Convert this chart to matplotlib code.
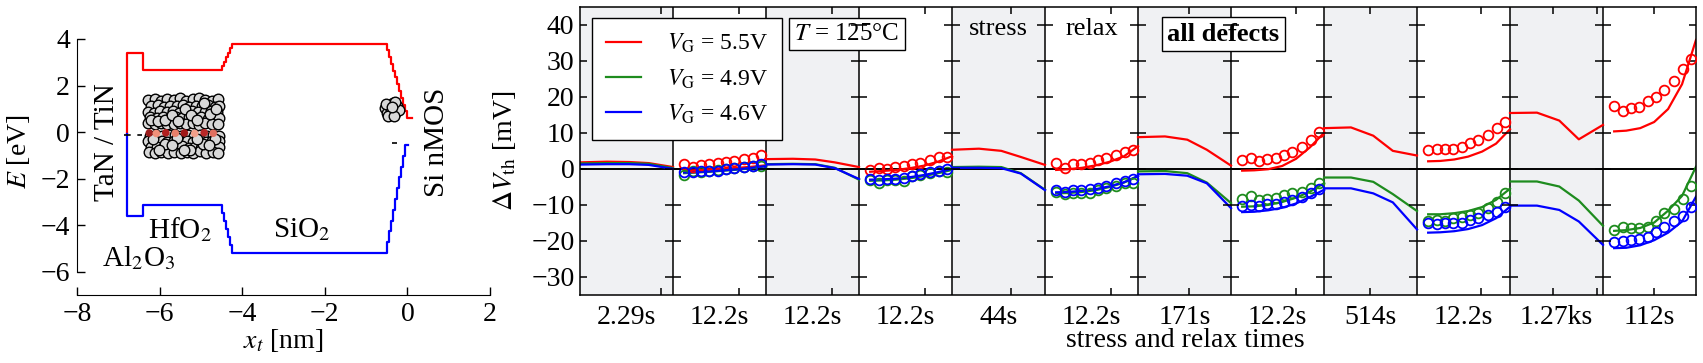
import numpy as np
import matplotlib
matplotlib.use('Agg')
import matplotlib.pyplot as plt

plt.rcParams['font.family'] = ['Liberation Serif', 'DejaVu Serif']
plt.rcParams['mathtext.fontset'] = 'stix'
plt.rcParams['font.size'] = 18

# ---------------- left panel: band diagram ----------------
cb_x = [-6.8, -6.8, -6.4, -6.4, -4.55, -4.5, -4.45, -4.4, -4.35, -4.3, -4.25,
        -0.55, -0.5, -0.45, -0.4, -0.35, -0.3, -0.25, -0.2, -0.15, -0.1, -0.05, 0.0, 0.1]
cb_E = [-0.1, 3.4, 3.4, 2.65, 2.65, 2.84, 3.03, 3.22, 3.41, 3.6, 3.8,
        3.8, 3.51, 3.22, 2.93, 2.64, 2.35, 2.05, 1.76, 1.47, 1.18, 0.89, 0.6, 0.6]
vb_x = [-6.8, -6.8, -6.4, -6.4, -4.55, -4.5, -4.45, -4.4, -4.35, -4.3, -4.25,
        -0.55, -0.5, -0.45, -0.4, -0.35, -0.3, -0.25, -0.2, -0.15, -0.1, -0.05, 0.02]
vb_E = [-0.1, -3.6, -3.6, -3.15, -3.15, -3.49, -3.83, -4.17, -4.51, -4.85, -5.2,
        -5.2, -4.74, -4.27, -3.81, -3.34, -2.88, -2.41, -1.95, -1.48, -1.02, -0.55, -0.55]

# defect positions (x_t, E) in HfO2
hfo2_x = [-6.27, -6.12, -5.96, -5.82, -5.66, -5.51, -5.36, -5.19, -5.05, -4.89, -4.74, -4.59,
          -6.22, -6.05, -5.90, -5.74, -5.59, -5.44, -5.28, -5.13, -4.98, -4.82, -4.67, -4.56,
          -6.28, -6.13, -5.98, -5.83, -5.67, -5.52, -5.37, -5.21, -5.06, -4.91, -4.75, -4.60,
          -6.23, -6.06, -5.91, -5.76, -5.60, -5.45, -5.29, -5.14, -4.99, -4.83, -4.68, -4.55,
          -6.27, -6.12, -5.97, -5.81, -5.66, -5.50, -5.35, -5.20, -5.04, -4.89, -4.73, -4.58,
          -6.20, -6.04, -5.88, -5.71, -5.55, -5.39, -5.24, -5.09, -4.93, -4.78, -4.63,
          -6.24, -6.09, -5.93, -5.78, -5.62, -5.47, -5.31, -5.16, -5.01, -4.85, -4.70, -4.56,
          -6.28, -6.11, -5.95, -5.81, -5.65, -5.49, -5.34, -5.19, -5.03, -4.88, -4.72, -4.57,
          -6.22, -6.07, -5.92, -5.77, -5.61, -5.46, -5.30, -5.15, -4.99, -4.84, -4.69, -4.55,
          -6.26, -6.10, -5.96, -5.80, -5.64, -5.49, -5.33, -5.18, -5.02, -4.87, -4.71, -4.58,
          -6.17, -5.86, -5.58, -5.27, -4.95, -4.66, -6.02, -5.69, -5.41, -5.10, -4.80]
hfo2_E = [1.36, 1.40, 1.33, 1.42, 1.37, 1.45, 1.35, 1.41, 1.47, 1.38, 1.34, 1.40,
          1.10, 1.15, 1.08, 1.14, 1.11, 1.17, 1.09, 1.13, 1.12, 1.16, 1.08, 1.13,
          0.88, 0.84, 0.90, 0.86, 0.89, 0.83, 0.88, 0.91, 0.85, 0.87, 0.90, 0.86,
          0.63, 0.60, 0.65, 0.59, 0.64, 0.61, 0.66, 0.60, 0.63, 0.58, 0.64, 0.62,
          0.37, 0.34, 0.38, 0.33, 0.36, 0.39, 0.35, 0.37, 0.32, 0.38, 0.35, 0.36,
          0.50, 0.47, 0.52, 0.75, 0.49, 1.00, 0.73, 0.51, 1.25, 0.76, 0.98,
          -0.16, -0.12, -0.18, -0.14, -0.11, -0.17, -0.13, -0.15, -0.12, -0.18, -0.14, -0.16,
          -0.40, -0.43, -0.37, -0.42, -0.39, -0.44, -0.38, -0.41, -0.36, -0.42, -0.40, -0.38,
          -0.65, -0.62, -0.68, -0.63, -0.66, -0.61, -0.67, -0.64, -0.69, -0.62, -0.66, -0.64,
          -0.86, -0.90, -0.84, -0.89, -0.87, -0.92, -0.85, -0.88, -0.83, -0.90, -0.86, -0.88,
          -0.28, -0.53, -0.27, -0.77, -0.52, -0.29, -0.76, -0.55, -0.78, -0.30, -0.54]
# a few charged defects near the Fermi level
hot_x = [-6.25, -6.08, -5.85, -5.62, -5.40, -5.15, -4.92, -4.70]
hot_E = [-0.04, -0.06, -0.03, -0.05, -0.04, -0.06, -0.03, -0.05]
hot_c = ['#9b1c1c', '#f0907a', '#b02020', '#e8806a', '#a01818', '#f2a08a', '#b82828', '#e07060']
# defects at the SiO2/Si interface
sio2_x = [-0.55, -0.45, -0.34, -0.24, -0.50, -0.40, -0.30, -0.21, -0.46, -0.33, -0.52, -0.29, -0.38]
sio2_E = [1.02, 1.18, 1.24, 1.10, 0.84, 0.95, 0.80, 0.94, 0.70, 0.68, 1.20, 1.30, 1.06]

# ---------------- right panel: Delta Vth ----------------
time_labels = ['2.29s', '12.2s', '12.2s', '12.2s', '44s', '12.2s',
               '171s', '12.2s', '514s', '12.2s', '1.27ks', '112s']
tick_frac = [0.875, 0.71, 0.71, 0.71, 0.63, 0.71, 0.55, 0.70, 0.49, 0.69, 0.46, 0.55]
stress_f = [0, 0.29, 0.53, 0.74, 1.0]
relax_line_f = [0.12, 0.25, 0.4, 0.55, 0.7, 0.85, 1.0]
relax_meas_f = [0.12, 0.21, 0.30, 0.39, 0.48, 0.57, 0.66, 0.76, 0.86, 0.95]

model_55 = [[1.8, 2.0, 1.9, 1.6, 0.5],
            [-0.5, -0.4, -0.2, 0.0, 0.3, 0.6, 1.0],
            [2.7, 2.8, 2.6, 1.8, 0.5],
            [-0.8, -0.6, -0.3, 0.2, 0.9, 2.0, 3.5],
            [5.3, 5.6, 5.0, 3.3, 1.1],
            [-0.3, -0.1, 0.3, 1.0, 2.0, 3.5, 6.3],
            [8.8, 9.0, 8.1, 5.3, 0.9],
            [-0.5, -0.4, -0.1, 0.8, 2.8, 6.0, 10.0],
            [11.3, 11.5, 9.2, 5.0, 3.7],
            [2.1, 2.2, 2.6, 3.4, 4.8, 7.0, 11.0],
            [15.5, 15.6, 13.4, 8.2, 12.2],
            [10.4, 10.6, 11.3, 13.0, 16.6, 23.5, 35.8]]
model_49 = [[1.5, 1.6, 1.6, 1.4, 0.2],
            [-1.2, -1.0, -0.8, -0.5, -0.2, 0.2, 0.7],
            [1.3, 1.4, 1.3, 0.3, -3.0],
            [-3.3, -3.2, -3.0, -2.6, -2.0, -1.2, -0.3],
            [0.5, 0.6, 0.5, -1.2, -5.8],
            [-6.8, -6.7, -6.4, -5.9, -5.0, -3.8, -2.0],
            [-0.7, -0.6, -1.2, -3.8, -9.5],
            [-10.5, -10.4, -10.0, -9.2, -8.0, -6.3, -4.0],
            [-2.4, -2.4, -3.6, -7.0, -11.7],
            [-12.6, -12.6, -12.3, -11.7, -10.6, -8.6, -5.5],
            [-3.5, -3.5, -4.9, -8.8, -15.8],
            [-17.2, -17.0, -16.4, -14.9, -11.6, -7.5, 0.6]]
model_46 = [[1.2, 1.3, 1.3, 1.1, 0.0],
            [-1.0, -0.9, -0.7, -0.4, -0.1, 0.3, 0.8],
            [1.2, 1.3, 1.2, 0.2, -2.8],
            [-3.0, -2.9, -2.7, -2.3, -1.7, -0.9, 0.0],
            [0.3, 0.3, 0.2, -1.3, -5.9],
            [-6.5, -6.4, -6.1, -5.6, -4.8, -3.7, -2.0],
            [-1.5, -1.4, -1.9, -4.0, -10.9],
            [-12.0, -11.9, -11.5, -10.8, -9.6, -7.8, -5.8],
            [-5.4, -5.4, -6.8, -9.3, -16.8],
            [-17.7, -17.6, -17.3, -16.7, -15.6, -13.7, -10.5],
            [-10.2, -10.2, -11.4, -14.6, -21.1],
            [-22.0, -21.9, -21.2, -19.8, -17.7, -14.6, -7.7]]

# measured data (relax phases only)
meas_55 = {1: [1.4, 0.65, 1.1, 1.4, 1.6, 1.9, 2.3, 2.7, 3.0, 3.8],
           3: [-0.3, 0.2, 0.0, 0.6, 0.8, 1.3, 1.6, 2.5, 3.4, 3.2],
           5: [1.6, 0.2, 1.3, 1.4, 1.6, 2.5, 3.0, 3.9, 4.8, 5.3],
           7: [2.5, 2.9, 2.2, 2.7, 3.0, 3.9, 4.8, 6.2, 8.1, 10.1],
           9: [5.1, 5.5, 5.6, 5.5, 6.0, 7.1, 7.9, 9.4, 11.3, 12.9],
           11: [17.5, 16.1, 16.9, 17.1, 18.7, 19.9, 21.9, 24.4, 27.8, 30.6]}
meas_49 = {1: [-1.7, -0.6, -0.8, -0.6, -0.4, -0.1, 0.2, 0.5, 0.8, 0.9],
           3: [-3.1, -3.9, -3.1, -3.1, -3.3, -2.1, -1.6, -1.2, -0.7, -0.9],
           5: [-6.3, -6.9, -6.6, -6.6, -6.6, -5.8, -5.4, -4.7, -4.0, -3.8],
           7: [-8.3, -7.5, -8.6, -8.4, -8.1, -7.2, -6.8, -6.3, -5.4, -4.0],
           9: [-14.6, -14.2, -14.4, -13.7, -13.4, -12.8, -12.3, -10.9, -9.1, -6.6],
           11: [-16.9, -16.2, -16.5, -16.5, -16.0, -14.6, -12.3, -11.2, -8.4, -4.7]}
meas_46 = {1: [-1.0, -0.8, -0.7, -0.6, -0.5, -0.1, 0.2, 0.6, 0.9, 1.3],
           3: [-2.8, -3.1, -2.8, -2.8, -2.6, -1.9, -1.4, -0.9, -0.5, 0.0],
           5: [-6.0, -6.3, -6.0, -5.8, -5.6, -5.2, -4.7, -4.0, -3.3, -2.8],
           7: [-10.2, -10.0, -10.2, -9.8, -9.7, -9.1, -8.6, -7.7, -6.8, -5.6],
           9: [-14.9, -15.4, -15.1, -15.1, -14.9, -14.2, -13.7, -12.8, -11.9, -10.5],
           11: [-20.2, -19.9, -19.7, -19.5, -18.8, -17.6, -16.2, -14.6, -13.1, -10.5]}

series = [('$V_\\mathrm{G}$ = 5.5V', '#ff0000', model_55, meas_55),
          ('$V_\\mathrm{G}$ = 4.9V', '#1e8c1e', model_49, meas_49),
          ('$V_\\mathrm{G}$ = 4.6V', '#0000ff', model_46, meas_46)]

W, H = 1703, 363
fig = plt.figure(figsize=(W / 100, H / 100), dpi=100)

# ---- left axes
ax1 = fig.add_axes([77 / W, 1 - 295 / H, (490 - 77) / W, (295 - 25) / H])
ax1.plot(cb_x, cb_E, color='#ff0000', lw=1.6, drawstyle='steps-post')
ax1.plot(vb_x, vb_E, color='#0000ff', lw=1.6, drawstyle='steps-post')
ax1.plot([-6.86, -6.43], [-0.12, -0.12], color='k', lw=1.2, ls=(0, (4, 4)))
ax1.plot([-0.38, -0.14], [-0.48, -0.48], color='k', lw=1.2, ls=(0, (3, 4)))
ax1.scatter(hfo2_x, hfo2_E, s=58, facecolor='#d8d8d8', edgecolor='k', lw=1.0, zorder=3)
ax1.scatter(hot_x, hot_E, s=30, facecolor=hot_c, edgecolor='none', zorder=4)
ax1.scatter(sio2_x, sio2_E, s=58, facecolor='#d8d8d8', edgecolor='k', lw=1.0, zorder=3)
ax1.text(-7.28, -0.45, 'TaN / TiN', rotation=90, ha='center', va='center', fontsize=21)
ax1.text(0.72, -0.45, 'Si nMOS', rotation=90, ha='center', va='center', fontsize=21)
ax1.text(-5.5, -4.2, 'HfO$_2$', ha='center', va='center', fontsize=21)
ax1.text(-2.55, -4.2, 'SiO$_2$', ha='center', va='center', fontsize=21)
ax1.text(-6.5, -5.4, 'Al$_2$O$_3$', ha='center', va='center', fontsize=21)
ax1.set_xlim(-8, 2)
ax1.set_ylim(-7, 4.6)
ax1.set_xticks([-8, -6, -4, -2, 0, 2])
ax1.set_yticks([-6, -4, -2, 0, 2, 4])
ax1.spines['top'].set_visible(False)
ax1.spines['right'].set_visible(False)
ax1.spines['left'].set_bounds(-6, 4)
ax1.spines['bottom'].set_bounds(-8, 2)
ax1.tick_params(direction='in', length=6, width=1, labelsize=20, pad=5)
ax1.set_xlabel('$x_t$ [nm]', fontsize=20, labelpad=0)
ax1.set_ylabel('$E$ [eV]', fontsize=20)
ax1.yaxis.set_label_coords((32 - 77) / 413, 0.53)

# ---- right axes
nseg = len(time_labels)
ax2 = fig.add_axes([580 / W, 1 - 295 / H, 1116 / W, (295 - 6.7) / H])
for i in range(0, nseg, 2):
    ax2.axvspan(i, i + 1, color='#f0f1f3', lw=0, zorder=0)
for i in range(1, nseg):
    ax2.axvline(i, color='k', lw=1.1, zorder=1)
ax2.axhline(0, color='k', lw=1.4, zorder=1)

for label, col, model, meas in series:
    for i in range(nseg):
        f = stress_f if i % 2 == 0 else relax_line_f
        ax2.plot(i + np.array(f), model[i], color=col, lw=1.6, zorder=2,
                 label=label if i == 0 else None)
    for i, vals in meas.items():
        ax2.plot(i + np.array(relax_meas_f), vals, ls='none', marker='o', ms=7,
                 mfc='none', mec=col, mew=1.3, zorder=3)

yt = [-30, -20, -10, 0, 10, 20, 30, 40]
for i in range(1, nseg):
    ax2.plot([i] * len(yt), yt, ls='none', marker='_', ms=11, mew=1.1, color='k', zorder=4)

ax2.set_xlim(0, nseg)
ax2.set_ylim(-35, 45)
ax2.set_yticks(yt)
ax2.set_xticks(np.arange(nseg) + 0.5)
ax2.set_xticklabels(time_labels)
minor = [i + f for i, f in enumerate(tick_frac)] + [10.94]
ax2.set_xticks(minor, minor=True)
ax2.tick_params(axis='x', which='major', length=0, pad=7, labelsize=20)
ax2.tick_params(axis='x', which='minor', direction='in', length=5, width=1.1, top=True, bottom=True)
ax2.tick_params(axis='y', direction='in', length=5, width=1.1, right=True, labelsize=20, pad=4)
for s in ax2.spines.values():
    s.set_linewidth(1.1)
ax2.set_ylabel('$\\Delta V_\\mathrm{th}$ [mV]', fontsize=20)
ax2.yaxis.set_label_coords((518 - 580) / 1116, 0.5)
ax2.set_xlabel('stress and relax times', fontsize=20)
ax2.xaxis.set_label_coords((1185 - 580) / 1116, -0.115)

leg = ax2.legend(loc='upper left', bbox_to_anchor=(0.0105, 0.961), borderaxespad=0,
                 fancybox=False, edgecolor='k', framealpha=1, fontsize=17,
                 handlelength=1.5, handletextpad=1.1, labelspacing=0.5, borderpad=0.6)
leg.get_frame().set_linewidth(1.0)

ax2.text(2.87, 37.4, '$T$ = 125°C', ha='center', va='center', fontsize=18,
         bbox=dict(boxstyle='square,pad=0.2', fc='white', ec='k', lw=1.0))
ax2.text(4.5, 38.8, 'stress', ha='center', va='center', fontsize=19)
ax2.text(5.5, 38.8, 'relax', ha='center', va='center', fontsize=19)
ax2.text(6.92, 37.4, 'all defects', ha='center', va='center', fontsize=19, fontweight='bold',
         bbox=dict(boxstyle='square,pad=0.2', fc='white', ec='k', lw=1.0))

fig.savefig('out.png', dpi=100)
